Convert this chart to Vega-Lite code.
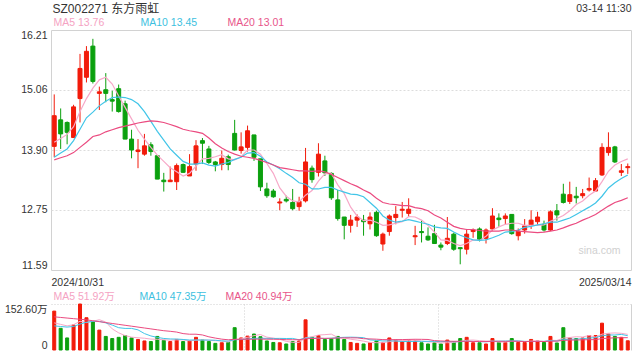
{
  "$schema": "https://vega.github.io/schema/vega-lite/v6.json",
  "background": "white",
  "padding": {"left": 4, "top": 2, "right": 6, "bottom": 0},
  "config": {
    "font": "Liberation Sans, Noto Sans CJK SC, sans-serif",
    "view": {"stroke": null},
    "axis": {"labelFont": "Liberation Sans, Noto Sans CJK SC, sans-serif", "labelColor": "#333", "labelFontSize": 10.5, "domain": false, "ticks": false, "title": null,
      "titleFont": "Liberation Sans, Noto Sans CJK SC, sans-serif", "titleFontWeight": "normal", "titleColor": "#333"},
    "legend": {"labelFont": "Liberation Sans, Noto Sans CJK SC, sans-serif"}
  },
  "datasets": {
    "k": [
      {"i":0,"o":13.97,"h":14.97,"l":13.76,"c":14.56,"m5":14.05,"m10":13.76,"m20":13.71,"v":129,"v5":90,"v10":80,"v20":110},
      {"i":1,"o":14.48,"h":14.70,"l":13.92,"c":14.21,"m5":14.12,"m10":13.84,"m20":13.75,"v":72,"v5":85,"v10":78,"v20":108},
      {"i":2,"o":14.43,"h":14.45,"l":14.01,"c":14.24,"m5":14.20,"m10":13.92,"m20":13.79,"v":40,"v5":80,"v10":76,"v20":106},
      {"i":3,"o":14.14,"h":14.77,"l":14.13,"c":14.73,"m5":14.35,"m10":14.08,"m20":13.85,"v":83,"v5":84,"v10":78,"v20":104},
      {"i":4,"o":14.89,"h":15.75,"l":14.43,"c":15.47,"m5":14.64,"m10":14.30,"m20":13.95,"v":152.6,"v5":95.3,"v10":86,"v20":102},
      {"i":5,"o":15.30,"h":15.90,"l":15.20,"c":15.80,"m5":14.89,"m10":14.52,"m20":14.05,"v":107,"v5":90.9,"v10":92,"v20":100},
      {"i":6,"o":15.90,"h":16.04,"l":15.18,"c":15.22,"m5":15.09,"m10":14.63,"m20":14.16,"v":94,"v5":95.3,"v10":95,"v20":97},
      {"i":7,"o":14.99,"h":15.12,"l":14.67,"c":15.02,"m5":15.25,"m10":14.75,"m20":14.19,"v":66,"v5":100.5,"v10":95,"v20":94},
      {"i":8,"o":15.06,"h":15.38,"l":14.82,"c":14.99,"m5":15.30,"m10":14.84,"m20":14.25,"v":45,"v5":92.9,"v10":90,"v20":91},
      {"i":9,"o":14.87,"h":15.04,"l":14.64,"c":14.84,"m5":15.17,"m10":14.91,"m20":14.29,"v":38,"v5":70.0,"v10":82.7,"v20":88},
      {"i":10,"o":15.08,"h":15.16,"l":14.62,"c":14.64,"m5":14.94,"m10":14.92,"m20":14.33,"v":42,"v5":57.0,"v10":74.0,"v20":85},
      {"i":11,"o":14.79,"h":14.85,"l":14.11,"c":14.11,"m5":14.72,"m10":14.91,"m20":14.36,"v":48,"v5":47.8,"v10":71.6,"v20":82},
      {"i":12,"o":14.11,"h":14.29,"l":13.74,"c":13.90,"m5":14.50,"m10":14.87,"m20":14.39,"v":40,"v5":42.6,"v10":71.6,"v20":79},
      {"i":13,"o":13.87,"h":14.11,"l":13.55,"c":13.90,"m5":14.28,"m10":14.79,"m20":14.42,"v":35,"v5":40.6,"v10":66.8,"v20":76},
      {"i":14,"o":13.82,"h":14.21,"l":13.79,"c":13.98,"m5":14.11,"m10":14.64,"m20":14.44,"v":30,"v5":39.0,"v10":54.5,"v20":73},
      {"i":15,"o":14.00,"h":14.05,"l":13.79,"c":13.87,"m5":13.95,"m10":14.45,"m20":14.46,"v":28,"v5":36.2,"v10":46.6,"v20":70},
      {"i":16,"o":13.79,"h":13.79,"l":13.34,"c":13.34,"m5":13.80,"m10":14.26,"m20":14.45,"v":45,"v5":35.6,"v10":41.7,"v20":67},
      {"i":17,"o":13.32,"h":13.46,"l":13.10,"c":13.29,"m5":13.68,"m10":14.09,"m20":14.43,"v":32,"v5":34.0,"v10":38.3,"v20":64},
      {"i":18,"o":13.29,"h":13.58,"l":13.29,"c":13.32,"m5":13.56,"m10":13.92,"m20":14.39,"v":28,"v5":32.6,"v10":36.6,"v20":62},
      {"i":19,"o":13.29,"h":13.64,"l":13.13,"c":13.60,"m5":13.48,"m10":13.80,"m20":14.35,"v":35,"v5":33.6,"v10":36.3,"v20":59.5},
      {"i":20,"o":13.62,"h":13.64,"l":13.46,"c":13.47,"m5":13.40,"m10":13.68,"m20":14.30,"v":28,"v5":33.6,"v10":34.9,"v20":54.4},
      {"i":21,"o":13.40,"h":13.82,"l":13.40,"c":13.58,"m5":13.45,"m10":13.63,"m20":14.27,"v":30,"v5":30.6,"v10":33.1,"v20":52.3},
      {"i":22,"o":13.63,"h":14.09,"l":13.50,"c":13.98,"m5":13.59,"m10":13.63,"m20":14.25,"v":42,"v5":32.6,"v10":33.3,"v20":52.4},
      {"i":23,"o":14.08,"h":14.13,"l":13.63,"c":14.03,"m5":13.73,"m10":13.65,"m20":14.22,"v":33,"v5":33.6,"v10":33.1,"v20":49.9},
      {"i":24,"o":13.92,"h":13.98,"l":13.63,"c":13.66,"m5":13.74,"m10":13.61,"m20":14.13,"v":28,"v5":32.2,"v10":32.9,"v20":43.7},
      {"i":25,"o":13.67,"h":13.69,"l":13.49,"c":13.62,"m5":13.77,"m10":13.59,"m20":14.02,"v":22,"v5":31.0,"v10":32.3,"v20":39.5},
      {"i":26,"o":13.62,"h":13.89,"l":13.51,"c":13.74,"m5":13.81,"m10":13.63,"m20":13.94,"v":24,"v5":29.8,"v10":30.2,"v20":36.0},
      {"i":27,"o":13.77,"h":13.81,"l":13.51,"c":13.62,"m5":13.73,"m10":13.66,"m20":13.87,"v":25,"v5":26.4,"v10":29.5,"v20":33.9},
      {"i":28,"o":14.22,"h":14.48,"l":13.89,"c":13.90,"m5":13.71,"m10":13.72,"m20":13.82,"v":74,"v5":34.6,"v10":34.1,"v20":35.4},
      {"i":29,"o":13.89,"h":14.24,"l":13.83,"c":13.96,"m5":13.77,"m10":13.76,"m20":13.78,"v":40,"v5":37.0,"v10":34.6,"v20":35.5},
      {"i":30,"o":13.95,"h":14.37,"l":13.87,"c":14.27,"m5":13.90,"m10":13.84,"m20":13.76,"v":46,"v5":41.8,"v10":36.4,"v20":35.7},
      {"i":31,"o":14.19,"h":14.19,"l":13.69,"c":13.76,"m5":13.90,"m10":13.85,"m20":13.74,"v":53,"v5":47.6,"v10":38.7,"v20":35.9},
      {"i":32,"o":13.73,"h":13.73,"l":13.11,"c":13.19,"m5":13.82,"m10":13.78,"m20":13.70,"v":44,"v5":51.4,"v10":38.9,"v20":36.1},
      {"i":33,"o":13.15,"h":13.27,"l":12.98,"c":13.02,"m5":13.64,"m10":13.67,"m20":13.66,"v":30,"v5":42.6,"v10":38.6,"v20":35.9},
      {"i":34,"o":13.11,"h":13.15,"l":12.98,"c":13.00,"m5":13.45,"m10":13.61,"m20":13.61,"v":25,"v5":39.6,"v10":38.3,"v20":35.6},
      {"i":35,"o":12.88,"h":12.97,"l":12.74,"c":12.90,"m5":13.17,"m10":13.54,"m20":13.56,"v":24,"v5":35.2,"v10":38.5,"v20":35.4},
      {"i":36,"o":12.95,"h":13.02,"l":12.89,"c":12.92,"m5":13.01,"m10":13.45,"m20":13.54,"v":20,"v5":28.6,"v10":38.1,"v20":34.2},
      {"i":37,"o":12.89,"h":13.15,"l":12.74,"c":12.77,"m5":12.92,"m10":13.37,"m20":13.52,"v":28,"v5":25.4,"v10":38.4,"v20":34.0},
      {"i":38,"o":12.81,"h":13.00,"l":12.73,"c":12.91,"m5":12.90,"m10":13.27,"m20":13.50,"v":30,"v5":25.4,"v10":34.0,"v20":34.1},
      {"i":39,"o":12.92,"h":13.94,"l":12.89,"c":13.67,"m5":13.03,"m10":13.24,"m20":13.50,"v":100,"v5":40.4,"v10":40.0,"v20":37.3},
      {"i":40,"o":13.55,"h":13.60,"l":13.27,"c":13.33,"m5":13.12,"m10":13.15,"m20":13.49,"v":42,"v5":44.0,"v10":39.6,"v20":38.0},
      {"i":41,"o":13.47,"h":14.03,"l":13.39,"c":13.82,"m5":13.30,"m10":13.15,"m20":13.50,"v":48,"v5":49.6,"v10":39.1,"v20":38.9},
      {"i":42,"o":13.69,"h":13.79,"l":13.40,"c":13.46,"m5":13.44,"m10":13.18,"m20":13.48,"v":35,"v5":51.0,"v10":38.2,"v20":38.6},
      {"i":43,"o":13.45,"h":13.47,"l":12.94,"c":12.98,"m5":13.45,"m10":13.18,"m20":13.43,"v":38,"v5":52.6,"v10":39.0,"v20":38.8},
      {"i":44,"o":12.94,"h":13.13,"l":12.54,"c":12.58,"m5":13.23,"m10":13.13,"m20":13.37,"v":45,"v5":41.6,"v10":41.0,"v20":39.7},
      {"i":45,"o":12.61,"h":12.61,"l":12.18,"c":12.45,"m5":13.06,"m10":13.09,"m20":13.31,"v":35,"v5":40.2,"v10":42.1,"v20":40.3},
      {"i":46,"o":12.45,"h":12.65,"l":12.31,"c":12.55,"m5":12.80,"m10":13.05,"m20":13.25,"v":25,"v5":35.6,"v10":42.6,"v20":40.4},
      {"i":47,"o":12.55,"h":12.66,"l":12.42,"c":12.61,"m5":12.63,"m10":13.04,"m20":13.20,"v":22,"v5":33.0,"v10":42.0,"v20":40.2},
      {"i":48,"o":12.55,"h":12.65,"l":12.25,"c":12.52,"m5":12.54,"m10":13.00,"m20":13.13,"v":20,"v5":29.4,"v10":41.0,"v20":37.5},
      {"i":49,"o":12.48,"h":12.70,"l":12.37,"c":12.61,"m5":12.55,"m10":12.89,"m20":13.07,"v":24,"v5":25.2,"v10":33.4,"v20":36.7},
      {"i":50,"o":12.70,"h":12.73,"l":12.23,"c":12.25,"m5":12.51,"m10":12.78,"m20":12.97,"v":30,"v5":24.2,"v10":32.2,"v20":35.9},
      {"i":51,"o":12.09,"h":12.31,"l":11.96,"c":12.28,"m5":12.45,"m10":12.63,"m20":12.89,"v":25,"v5":24.2,"v10":29.9,"v20":34.5},
      {"i":52,"o":12.33,"h":12.66,"l":12.25,"c":12.63,"m5":12.46,"m10":12.55,"m20":12.86,"v":40,"v5":27.8,"v10":30.4,"v20":34.3},
      {"i":53,"o":12.60,"h":12.82,"l":12.47,"c":12.66,"m5":12.49,"m10":12.51,"m20":12.85,"v":33,"v5":30.4,"v10":29.9,"v20":34.5},
      {"i":54,"o":12.74,"h":12.90,"l":12.60,"c":12.76,"m5":12.52,"m10":12.53,"m20":12.83,"v":28,"v5":31.2,"v10":28.2,"v20":34.6},
      {"i":55,"o":12.68,"h":12.97,"l":12.61,"c":12.76,"m5":12.62,"m10":12.56,"m20":12.83,"v":33,"v5":31.8,"v10":28.0,"v20":35.1},
      {"i":56,"o":12.23,"h":12.44,"l":12.07,"c":12.25,"m5":12.61,"m10":12.53,"m20":12.79,"v":30,"v5":32.8,"v10":28.5,"v20":35.6},
      {"i":57,"o":12.33,"h":12.54,"l":12.12,"c":12.31,"m5":12.55,"m10":12.50,"m20":12.77,"v":24,"v5":29.6,"v10":28.7,"v20":35.4},
      {"i":58,"o":12.24,"h":12.41,"l":12.15,"c":12.17,"m5":12.45,"m10":12.47,"m20":12.73,"v":20,"v5":27.0,"v10":28.7,"v20":34.9},
      {"i":59,"o":12.29,"h":12.46,"l":12.09,"c":12.10,"m5":12.32,"m10":12.42,"m20":12.65,"v":24,"v5":26.2,"v10":28.7,"v20":31.1},
      {"i":60,"o":12.07,"h":12.12,"l":11.97,"c":12.03,"m5":12.17,"m10":12.40,"m20":12.59,"v":20,"v5":23.6,"v10":27.7,"v20":30.0},
      {"i":61,"o":12.10,"h":12.61,"l":12.07,"c":12.20,"m5":12.16,"m10":12.39,"m20":12.51,"v":33,"v5":24.2,"v10":28.5,"v20":29.2},
      {"i":62,"o":12.28,"h":12.31,"l":11.96,"c":11.99,"m5":12.10,"m10":12.32,"m20":12.43,"v":28,"v5":25.0,"v10":27.3,"v20":28.9},
      {"i":63,"o":12.02,"h":12.02,"l":11.70,"c":12.00,"m5":12.06,"m10":12.26,"m20":12.39,"v":38,"v5":28.6,"v10":27.8,"v20":28.9},
      {"i":64,"o":11.99,"h":12.38,"l":11.89,"c":12.28,"m5":12.10,"m10":12.21,"m20":12.37,"v":42,"v5":32.2,"v10":29.2,"v20":28.7},
      {"i":65,"o":12.33,"h":12.39,"l":12.21,"c":12.36,"m5":12.17,"m10":12.17,"m20":12.37,"v":24,"v5":33.0,"v10":28.3,"v20":28.2},
      {"i":66,"o":12.38,"h":12.41,"l":12.14,"c":12.18,"m5":12.16,"m10":12.16,"m20":12.35,"v":24,"v5":31.2,"v10":27.7,"v20":28.1},
      {"i":67,"o":12.20,"h":12.39,"l":12.10,"c":12.36,"m5":12.24,"m10":12.17,"m20":12.34,"v":20,"v5":29.6,"v10":27.3,"v20":28.0},
      {"i":68,"o":12.38,"h":12.78,"l":12.34,"c":12.63,"m5":12.36,"m10":12.21,"m20":12.34,"v":38,"v5":29.6,"v10":29.1,"v20":28.9},
      {"i":69,"o":12.59,"h":12.68,"l":12.42,"c":12.56,"m5":12.42,"m10":12.26,"m20":12.34,"v":25,"v5":26.2,"v10":29.2,"v20":29.0},
      {"i":70,"o":12.58,"h":12.68,"l":12.46,"c":12.63,"m5":12.47,"m10":12.32,"m20":12.36,"v":25,"v5":26.4,"v10":29.7,"v20":28.7},
      {"i":71,"o":12.66,"h":12.66,"l":12.27,"c":12.29,"m5":12.49,"m10":12.33,"m20":12.36,"v":38,"v5":29.2,"v10":30.2,"v20":29.4},
      {"i":72,"o":12.25,"h":12.39,"l":12.16,"c":12.34,"m5":12.49,"m10":12.36,"m20":12.34,"v":25,"v5":30.2,"v10":29.9,"v20":28.6},
      {"i":73,"o":12.36,"h":12.57,"l":12.29,"c":12.44,"m5":12.45,"m10":12.41,"m20":12.33,"v":25,"v5":27.6,"v10":28.6,"v20":28.2},
      {"i":74,"o":12.46,"h":12.74,"l":12.38,"c":12.55,"m5":12.45,"m10":12.43,"m20":12.32,"v":35,"v5":29.6,"v10":27.9,"v20":28.6},
      {"i":75,"o":12.52,"h":12.71,"l":12.46,"c":12.61,"m5":12.45,"m10":12.46,"m20":12.31,"v":30,"v5":30.6,"v10":28.5,"v20":28.4},
      {"i":76,"o":12.47,"h":12.54,"l":12.33,"c":12.36,"m5":12.46,"m10":12.48,"m20":12.32,"v":25,"v5":28.0,"v10":28.6,"v20":28.2},
      {"i":77,"o":12.36,"h":12.74,"l":12.34,"c":12.71,"m5":12.53,"m10":12.51,"m20":12.34,"v":45,"v5":32.0,"v10":31.1,"v20":29.2},
      {"i":78,"o":12.73,"h":12.86,"l":12.54,"c":12.65,"m5":12.58,"m10":12.51,"m20":12.36,"v":23.3,"v5":31.7,"v10":29.6,"v20":29.4},
      {"i":79,"o":13.05,"h":13.25,"l":12.87,"c":12.89,"m5":12.64,"m10":12.55,"m20":12.40,"v":74,"v5":39.5,"v10":34.5,"v20":31.9},
      {"i":80,"o":12.91,"h":13.29,"l":12.86,"c":13.04,"m5":12.73,"m10":12.59,"m20":12.45,"v":40,"v5":41.5,"v10":36.0,"v20":32.9},
      {"i":81,"o":13.01,"h":13.19,"l":12.87,"c":12.98,"m5":12.85,"m10":12.66,"m20":12.49,"v":38,"v5":44.1,"v10":36.0,"v20":33.1},
      {"i":82,"o":13.02,"h":13.15,"l":12.97,"c":13.06,"m5":12.92,"m10":12.73,"m20":12.55,"v":40,"v5":43.1,"v10":37.5,"v20":33.7},
      {"i":83,"o":13.13,"h":13.37,"l":13.10,"c":13.16,"m5":13.03,"m10":12.80,"m20":12.60,"v":47.9,"v5":48.0,"v10":39.8,"v20":34.2},
      {"i":84,"o":13.11,"h":13.36,"l":13.10,"c":13.31,"m5":13.11,"m10":12.88,"m20":12.66,"v":48,"v5":42.8,"v10":41.1,"v20":34.5},
      {"i":85,"o":13.42,"h":14.03,"l":13.40,"c":13.95,"m5":13.29,"m10":13.01,"m20":12.74,"v":89,"v5":52.6,"v10":47.0,"v20":37.8},
      {"i":86,"o":13.85,"h":14.24,"l":13.79,"c":13.95,"m5":13.49,"m10":13.17,"m20":12.82,"v":53,"v5":55.6,"v10":49.8,"v20":39.2},
      {"i":87,"o":13.96,"h":13.98,"l":13.65,"c":13.67,"m5":13.61,"m10":13.27,"m20":12.89,"v":45,"v5":56.6,"v10":49.8,"v20":40.5},
      {"i":88,"o":13.47,"h":13.63,"l":13.40,"c":13.50,"m5":13.68,"m10":13.35,"m20":12.93,"v":42,"v5":55.4,"v10":51.7,"v20":40.7},
      {"i":89,"o":13.56,"h":13.64,"l":13.44,"c":13.58,"m5":13.73,"m10":13.42,"m20":12.98,"v":30.6,"v5":51.92,"v10":47.35,"v20":40.94}
    ]
  },
  "spacing": 4,
  "resolve": {"scale": {"color": "independent", "x": "independent", "y": "independent"}, "legend": {"color": "independent"}},
  "vconcat": [
    {
      "width": 580,
      "height": 240,
      "view": {"stroke": "#d2d2d2"},
      "data": {"name": "k"},
      "resolve": {"axis": {"y": "independent"}},
      "encoding": {
        "x": {"field": "i", "type": "quantitative", "scale": {"domain": [-0.5, 89.5], "nice": false, "zero": false, "padding": 0},
          "axis": {"values": [-0.5, 89.5], "labelFlush": true, "labelPadding": 7, "grid": false,
            "labelExpr": "datum.value < 0 ? '2024/10/31' : '2025/03/14'",
            "title": "sina.com", "titleX": 569, "titleY": -20, "titleAlign": "right", "titleBaseline": "middle", "titleAnchor": null,
            "titleColor": "#d0d0d0", "titleFontSize": 10.5}}
      },
      "layer": [
        {
          "mark": {"type": "rule", "strokeWidth": 1},
          "encoding": {
            "y": {"field": "l", "type": "quantitative", "scale": {"domain": [11.59, 16.21], "nice": false, "zero": false},
              "axis": {"orient": "left", "values": [11.59, 12.75, 13.90, 15.06, 16.21], "format": ".2f", "labelFlush": true, "labelPadding": 4,
                "grid": true, "gridDash": [2, 2], "gridColor": {"condition": {"test": "datum.value < 11.6 || datum.value > 16.2", "value": "transparent"}, "value": "#dcdcdc"},
                "title": "SZ002271 东方雨虹", "titleAngle": 0, "titleX": 1, "titleY": -21.5, "titleAlign": "left", "titleBaseline": "middle", "titleAnchor": null, "titleFontSize": 12}},
            "y2": {"field": "h"},
            "color": {"condition": {"test": "datum.c >= datum.o", "value": "#f21b0a"}, "value": "#0ba00e"}
          }
        },
        {
          "mark": {"type": "bar", "width": 4, "strokeWidth": 1},
          "encoding": {
            "y": {"field": "o", "type": "quantitative", "scale": {"domain": [11.59, 16.21], "nice": false, "zero": false}, "axis": null},
            "y2": {"field": "c"},
            "fill": {"condition": {"test": "datum.c >= datum.o", "value": "#f21b0a"}, "value": "#0ba00e"},
            "stroke": {"condition": {"test": "datum.c >= datum.o", "value": "#f21b0a"}, "value": "#0ba00e"}
          }
        },
        {
          "transform": [{"fold": ["m5", "m10", "m20"], "as": ["ma", "val"]}],
          "mark": {"type": "line", "strokeWidth": 1.2},
          "encoding": {
            "y": {"field": "val", "type": "quantitative", "scale": {"domain": [11.59, 16.21], "nice": false, "zero": false},
              "axis": {"orient": "right", "labels": false, "grid": false,
                "title": "03-14 11:30", "titleAngle": 0, "titleX": 0, "titleY": -21.5, "titleAlign": "right", "titleBaseline": "middle", "titleAnchor": null, "titleFontSize": 10.5}},
            "color": {"field": "ma", "type": "nominal",
              "scale": {"domain": ["m5", "m10", "m20"], "range": ["#f7a8c8", "#41c5e8", "#eb4b80"]},
              "legend": {"orient": "none", "legendX": -8, "legendY": -12, "direction": "horizontal", "title": null,
                "symbolSize": 0, "symbolOpacity": 0, "labelOffset": 0, "labelFontSize": 10.5, "columnPadding": 19, "gridAlign": "all",
                "labelExpr": "datum.value == 'm5' ? 'MA5 13.76' : datum.value == 'm10' ? 'MA10 13.45' : 'MA20 13.01'",
                "encode": {"labels": {"update": {"fill": {"signal": "datum.value == 'm5' ? '#f5a3c3' : datum.value == 'm10' ? '#3dbfe0' : '#e8558a'"}}}}}}
          }
        }
      ]
    },
    {
      "width": 580,
      "height": 46,
      "data": {"name": "k"},
      "encoding": {
        "x": {"field": "i", "type": "quantitative", "scale": {"domain": [-0.5, 89.5], "nice": false, "zero": false, "padding": 0},
          "axis": {"values": [29.5, 59.5, 89.5], "labels": false, "grid": true,
            "gridDash": {"condition": {"test": "datum.value > 89", "value": []}, "value": [1, 2]},
            "gridColor": {"condition": {"test": "datum.value > 89", "value": "#d2d2d2"}, "value": "#cfcfcf"}}}
      },
      "layer": [
        {
          "mark": {"type": "bar", "width": 3, "strokeWidth": 1},
          "encoding": {
            "y": {"field": "v", "type": "quantitative", "scale": {"domain": [0, 152.6], "nice": false},
              "axis": {"values": [0, 152.6], "labelFlush": true, "labelPadding": 4,
                "labelExpr": "datum.value == 0 ? '0' : '152.60万'",
                "grid": true, "gridDash": [1, 2], "gridColor": {"condition": {"test": "datum.value == 0", "value": "transparent"}, "value": "#cfcfcf"}}},
            "y2": {"datum": 0},
            "fill": {"condition": {"test": "datum.c >= datum.o", "value": "#f21b0a"}, "value": "#0ba00e"},
            "stroke": {"condition": {"test": "datum.c >= datum.o", "value": "#f21b0a"}, "value": "#0ba00e"}
          }
        },
        {
          "transform": [{"fold": ["v5", "v10", "v20"], "as": ["ma", "val"]}],
          "mark": {"type": "line", "strokeWidth": 1},
          "encoding": {
            "y": {"field": "val", "type": "quantitative"},
            "color": {"field": "ma", "type": "nominal",
              "scale": {"domain": ["v5", "v10", "v20"], "range": ["#f7a8c8", "#41c5e8", "#eb4b80"]},
              "legend": {"orient": "none", "legendX": -8, "legendY": -12, "direction": "horizontal", "title": null,
                "symbolSize": 0, "symbolOpacity": 0, "labelOffset": 0, "labelFontSize": 10.5, "columnPadding": 8, "gridAlign": "all",
                "labelExpr": "datum.value == 'v5' ? 'MA5 51.92万' : datum.value == 'v10' ? 'MA10 47.35万' : 'MA20 40.94万'",
                "encode": {"labels": {"update": {"fill": {"signal": "datum.value == 'v5' ? '#f5a3c3' : datum.value == 'v10' ? '#3dbfe0' : '#e8558a'"}}}}}}
          }
        }
      ]
    }
  ]
}
